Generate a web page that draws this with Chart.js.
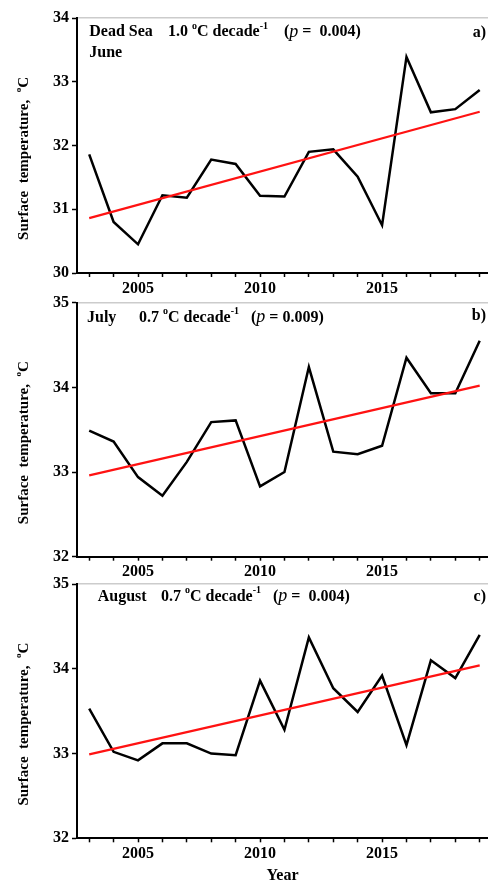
<!DOCTYPE html>
<html>
<head>
<meta charset="utf-8">
<script src="https://cdn.jsdelivr.net/npm/chart.js@4.4.0/dist/chart.umd.min.js"></script>
<style>
  html, body { margin: 0; padding: 0; background: #fff; width: 488px; height: 884px; overflow: hidden; }
  canvas { position: absolute; left: 0; }
</style>
</head>
<body>
<canvas id="panelJune" width="488" height="300" style="top:0px"></canvas>
<canvas id="panelJuly" width="488" height="300" style="top:285px"></canvas>
<canvas id="panelAugust" width="488" height="314" style="top:570px"></canvas>
<script>
// Years of record
const years = [2003, 2004, 2005, 2006, 2007, 2008, 2009, 2010, 2011, 2012, 2013, 2014, 2015, 2016, 2017, 2018, 2019];

// Mean surface temperature (°C) per month
const juneTemp   = [31.86, 30.80, 30.45, 31.22, 31.18, 31.78, 31.71, 31.21, 31.20, 31.90, 31.94, 31.51, 30.75, 33.39, 32.52, 32.57, 32.87];
const julyTemp   = [33.49, 33.36, 32.94, 32.72, 33.12, 33.59, 33.61, 32.83, 33.00, 34.24, 33.24, 33.21, 33.31, 34.35, 33.93, 33.93, 34.55];
const augustTemp = [33.53, 33.02, 32.92, 33.12, 33.12, 33.00, 32.98, 33.86, 33.28, 34.37, 33.77, 33.49, 33.92, 33.10, 34.10, 33.89, 34.40];

// Linear trend lines, start and end of the record
const trendYears  = [2003, 2019];
const juneTrend   = [30.86, 32.53];
const julyTrend   = [32.96, 34.02];
const augustTrend = [32.99, 34.04];

// Axis tick labels
const xLabelYears = [2005, 2010, 2015];
const juneTicks   = [30, 31, 32, 33, 34];
const julyTicks   = [32, 33, 34, 35];
const augustTicks = [32, 33, 34, 35];

const FONT = '"Liberation Serif", "Times New Roman", serif';
Chart.defaults.font.family = FONT;
Chart.defaults.color = '#000';

// In-panel annotation text for each canvas
const panelNotes = {
  panelJune: {
    tag: 'a)', tagDy: 14.5,
    rows: [
      { dy: 14, parts: [
        { t: 'Dead Sea', at: 12.3 },
        { t: '1.0 ', at: 91 }, { t: 'o', sup: true }, { t: 'C decade' }, { t: '-1', sup: true },
        { t: '(', at: 207 }, { t: 'p', it: true }, { t: ' =  0.004)' }
      ] },
      { dy: 35, parts: [{ t: 'June', at: 12.3 }] }
    ]
  },
  panelJuly: {
    tag: 'b)', tagDy: 13,
    rows: [
      { dy: 15, parts: [
        { t: 'July', at: 10 },
        { t: '0.7 ', at: 62 }, { t: 'o', sup: true }, { t: 'C decade' }, { t: '-1', sup: true },
        { t: '(', at: 174 }, { t: 'p', it: true }, { t: ' = 0.009)' }
      ] }
    ]
  },
  panelAugust: {
    tag: 'c)', tagDy: 12.5,
    rows: [
      { dy: 12.7, parts: [
        { t: 'August', at: 20.7 },
        { t: '0.7 ', at: 84 }, { t: 'o', sup: true }, { t: 'C decade' }, { t: '-1', sup: true },
        { t: '(', at: 196 }, { t: 'p', it: true }, { t: ' =  0.004)' }
      ] }
    ]
  }
};

// Draws the in-panel annotation, the panel tag and the rotated y-axis title
const panelText = {
  id: 'panelText',
  afterDraw(chart) {
    const o = panelNotes[chart.canvas.id];
    if (!o) return;
    const { ctx, chartArea: a } = chart;
    ctx.save();
    ctx.fillStyle = '#000';
    ctx.textBaseline = 'middle';
    ctx.textAlign = 'left';
    const setFont = p => {
      if (p.sup) ctx.font = 'bold 10px ' + FONT;
      else if (p.it) ctx.font = 'italic 18px ' + FONT;
      else ctx.font = 'bold 16px ' + FONT;
    };
    o.rows.forEach(row => {
      let x = a.left;
      const y = a.top + row.dy;
      row.parts.forEach(p => {
        if (typeof p.at === 'number') x = a.left + p.at;
        setFont(p);
        ctx.fillText(p.t, x, p.sup ? y - 6 : y);
        x += ctx.measureText(p.t).width;
      });
    });
    ctx.font = 'bold 16px ' + FONT;
    ctx.textAlign = 'right';
    ctx.fillText(o.tag, a.right - 2, a.top + o.tagDy);

    // y-axis title
    const title = [
      { t: 'Surface  temperature,  ' },
      { t: 'o', sup: true },
      { t: 'C' }
    ];
    ctx.translate(24, (a.top + a.bottom) / 2 + 13);
    ctx.rotate(-Math.PI / 2);
    ctx.textAlign = 'left';
    let total = 0;
    title.forEach(p => {
      ctx.font = p.sup ? 'bold 9px ' + FONT : 'bold 15px ' + FONT;
      total += ctx.measureText(p.t).width;
    });
    let tx = -total / 2;
    title.forEach(p => {
      ctx.font = p.sup ? 'bold 9px ' + FONT : 'bold 15px ' + FONT;
      ctx.fillText(p.t, tx, p.sup ? -5 : 0);
      tx += ctx.measureText(p.t).width;
    });
    ctx.restore();
  }
};
Chart.register(panelText);

function buildPanel(id, values, trend, yTicks, cfg) {
  return new Chart(document.getElementById(id), {
    type: 'line',
    data: {
      datasets: [
        {
          data: years.map((yr, i) => ({ x: yr, y: values[i] })),
          borderColor: '#000', borderWidth: 2.5, pointRadius: 0, tension: 0, order: 2
        },
        {
          data: trendYears.map((yr, i) => ({ x: yr, y: trend[i] })),
          borderColor: '#ff1212', borderWidth: 2.2, pointRadius: 0, tension: 0, order: 1
        }
      ]
    },
    options: {
      responsive: false,
      animation: false,
      events: [],
      layout: { padding: { top: cfg.top, left: 0, right: 0, bottom: 0 } },
      plugins: {
        legend: { display: false },
        tooltip: { enabled: false }
      },
      scales: {
        x: {
          type: 'linear', position: 'bottom', min: 2002.5, max: 2019.34,
          afterBuildTicks: s => { s.ticks = years.map(v => ({ value: v })); },
          afterFit: s => { s.height = cfg.xh; },
          ticks: {
            autoSkip: false, maxRotation: 0, minRotation: 0, padding: 2, color: '#000',
            font: { size: 16, weight: 'bold' },
            callback: v => xLabelYears.includes(v) ? String(v) : ''
          },
          grid: { drawOnChartArea: false, drawTicks: true, tickLength: 4, tickColor: '#000', tickWidth: 1.5 },
          border: { display: true, color: '#000', width: 2 },
          title: cfg.xTitle
            ? { display: true, text: 'Year', color: '#000', font: { size: 16, weight: 'bold', lineHeight: 1 }, padding: { top: 0, bottom: 0 } }
            : { display: false }
        },
        xTop: {
          type: 'linear', position: 'top', min: 2002.5, max: 2019.34,
          afterFit: s => { s.height = 0; },
          ticks: { display: false },
          grid: { drawOnChartArea: false, drawTicks: false },
          border: { display: true, color: '#cccccc', width: 1.5 }
        },
        y: {
          type: 'linear', min: yTicks[0], max: yTicks[yTicks.length - 1],
          afterBuildTicks: s => { s.ticks = yTicks.map(v => ({ value: v })); },
          afterFit: s => { s.width = 77; },
          ticks: { padding: 3, color: '#000', font: { size: 16, weight: 'bold' } },
          grid: { drawOnChartArea: false, drawTicks: true, tickLength: 5, tickColor: '#000', tickWidth: 1.5 },
          border: { display: true, color: '#000', width: 2 }
        }
      }
    }
  });
}

buildPanel('panelJune', juneTemp, juneTrend, juneTicks, { top: 18, xh: 27 });
buildPanel('panelJuly', julyTemp, julyTrend, julyTicks, { top: 17.7, xh: 28.3 });
buildPanel('panelAugust', augustTemp, augustTrend, augustTicks, { top: 14, xh: 45.7, xTitle: true });
</script>
</body>
</html>
